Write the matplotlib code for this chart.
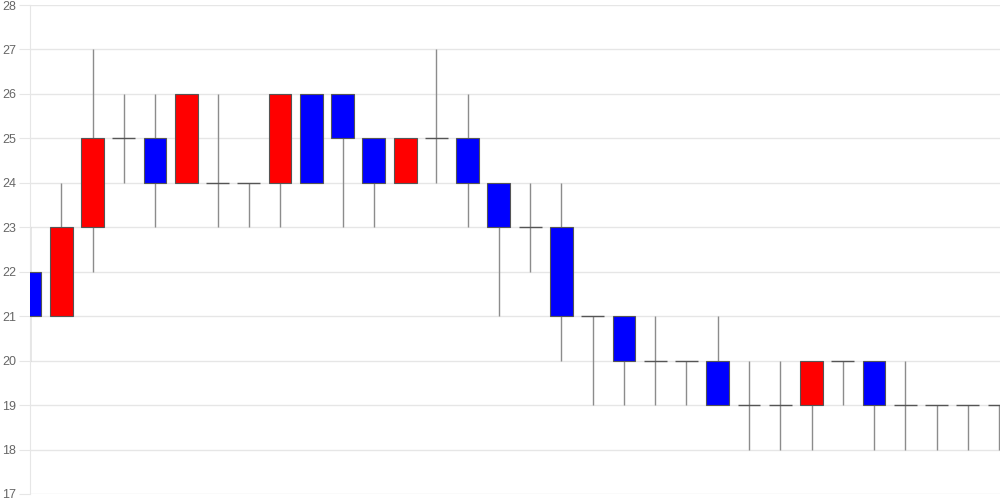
import matplotlib
matplotlib.use("Agg")
import matplotlib.pyplot as plt
import numpy as np

# daily candles (open, high, low, close)
opens  = [22, 21, 23, 25, 25, 24, 24, 24, 24, 26, 26, 25, 24, 25, 25, 24,
          23, 23, 21, 21, 20, 20, 20, 19, 19, 19, 20, 20, 19, 19, 19, 19]
highs  = [23, 24, 27, 26, 26, 26, 26, 24, 26, 26, 26, 25, 25, 27, 26, 24,
          24, 24, 21, 21, 21, 20, 21, 20, 20, 20, 20, 20, 20, 19, 19, 19]
lows   = [20, 21, 22, 24, 23, 24, 23, 23, 23, 24, 23, 23, 24, 24, 23, 21,
          22, 20, 19, 19, 19, 19, 19, 18, 18, 18, 19, 18, 18, 18, 18, 18]
closes = [21, 23, 25, 25, 24, 26, 24, 24, 26, 24, 25, 24, 25, 25, 24, 23,
          23, 21, 21, 20, 20, 20, 19, 19, 19, 20, 20, 19, 19, 19, 19, 19]

y_ticks = list(range(17, 29))

plt.rcParams['font.family'] = ['Liberation Sans', 'DejaVu Sans']

fig = plt.figure(figsize=(10, 5), dpi=100)
ax = fig.add_axes([0.03, 0.012, 0.97, 0.978])

x = np.arange(len(opens))
w = 0.73
for i in x:
   o, h, l, c = opens[i], highs[i], lows[i], closes[i]
   ax.vlines(i, l, h, color='#8c8c8c', linewidth=1, zorder=2)
   if c > o:
      ax.bar(i, c - o, bottom=o, width=w, color='#ff0000', edgecolor='#555555', linewidth=0.8, zorder=3)
   elif c < o:
      ax.bar(i, o - c, bottom=c, width=w, color='#0000ff', edgecolor='#555555', linewidth=0.8, zorder=3)
   else:
      ax.hlines(o, i - w/2, i + w/2, color='#555555', linewidth=1, zorder=3)

ax.set_xlim(0, 31.03)
ax.set_ylim(17, 28)
ax.set_yticks(y_ticks)
ax.set_xticks([])
ax.grid(axis='y', color='#e6e6e6', linewidth=1, zorder=0)
ax.tick_params(axis='y', length=8, color='#e6e6e6', labelcolor='#666666', labelsize=9, pad=2)
for s in ['top', 'right', 'bottom']:
   ax.spines[s].set_visible(False)
ax.spines['left'].set_color('#e6e6e6')

plt.savefig('out.png', dpi=100)
